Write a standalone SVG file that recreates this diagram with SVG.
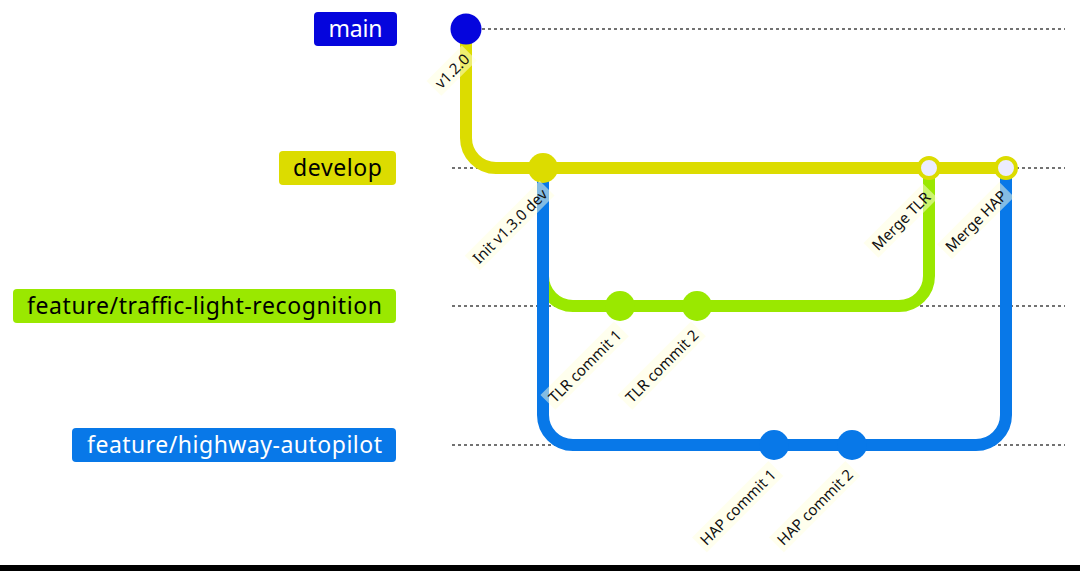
<svg xmlns="http://www.w3.org/2000/svg" width="1080" height="571" viewBox="0 0 1080 571">
<style>
.lane{stroke:#444;stroke-width:1.5;stroke-dasharray:3,3;fill:none}
.arrow{fill:none;stroke-width:12;stroke-linecap:butt}
.c0{stroke:#0505dd}.c1{stroke:#dcdc00}.c2{stroke:#9ae800}.c3{stroke:#0878e8}
.f0{fill:#0505dd}.f1{fill:#dcdc00}.f2{fill:#9ae800}.f3{fill:#0878e8}
.merge{fill:#ececff;stroke:#dcdc00;stroke-width:4}
.blabel{font-family:"Noto Sans","Open Sans",sans-serif;font-size:23px;text-anchor:middle}
.clabel{font-family:"Noto Sans","Open Sans",sans-serif;font-size:15px;text-anchor:middle;fill:#111}
.cbg{fill:#ffffde;opacity:0.5}
</style>
<rect x="0" y="0" width="1080" height="571" fill="#ffffff"/>
<g id="lanes">
<line class="lane" x1="452" y1="29" x2="1065" y2="29"/>
<line class="lane" x1="452" y1="168" x2="1065" y2="168"/>
<line class="lane" x1="452" y1="306" x2="1065" y2="306"/>
<line class="lane" x1="452" y1="445" x2="1065" y2="445"/>
</g>
<g id="branch-main"><rect x="314" y="12" width="83" height="34" rx="4" class="f0"/><text class="blabel" x="355.5" y="37" fill="#ffffff" textLength="54">main</text></g>
<g id="branch-develop"><rect x="279" y="151" width="117" height="34" rx="4" class="f1"/><text class="blabel" x="337.5" y="176" fill="#000000" textLength="89">develop</text></g>
<g id="branch-tlr"><rect x="13" y="289" width="383" height="34" rx="4" class="f2"/><text class="blabel" x="204.5" y="314" fill="#000000" textLength="355">feature/traffic-light-recognition</text></g>
<g id="branch-hap"><rect x="72" y="428" width="324" height="34" rx="4" class="f3"/><text class="blabel" x="234.5" y="453" fill="#ffffff" textLength="295">feature/highway-autopilot</text></g>
<g id="connectors">
<path class="arrow c1" d="M466,29 L466,138 A30,30 0 0,0 496,168 L543,168"/>
<path class="arrow c2" d="M543,168 L543,276 A30,30 0 0,0 573,306 L620,306"/>
<path class="arrow c2" d="M620,306 L697,306"/>
<path class="arrow c3" d="M543,168 L543,415 A30,30 0 0,0 573,445 L774,445"/>
<path class="arrow c3" d="M774,445 L852,445"/>
<path class="arrow c1" d="M543,168 L929,168"/>
<path class="arrow c2" d="M697,306 L899,306 A30,30 0 0,0 929,276 L929,168"/>
<path class="arrow c1" d="M929,168 L1006,168"/>
<path class="arrow c3" d="M852,445 L976,445 A30,30 0 0,0 1006,415 L1006,168"/>
</g>
<g id="commit-v120"><circle cx="466" cy="29" r="15.5" class="f0"/></g>
<g id="commit-init"><circle cx="543" cy="168" r="15" class="f1"/></g>
<g id="commit-tlr1"><circle cx="620" cy="306" r="15" class="f2"/></g>
<g id="commit-tlr2"><circle cx="697" cy="306" r="15" class="f2"/></g>
<g id="commit-hap1"><circle cx="774" cy="445" r="15" class="f3"/></g>
<g id="commit-hap2"><circle cx="852" cy="445" r="15" class="f3"/></g>
<g id="commit-merge-tlr"><circle cx="929" cy="168" r="10" class="merge"/></g>
<g id="commit-merge-hap"><circle cx="1006" cy="168" r="10" class="merge"/></g>
<g id="labels">
<g transform="translate(452,71) rotate(-45)"><rect class="cbg" x="-25" y="-11" width="50" height="21"/><text class="clabel" x="0" y="5.5">v1.2.0</text></g>
<g transform="translate(510,226) rotate(-45)"><rect class="cbg" x="-53" y="-11" width="106" height="21"/><text class="clabel" x="0" y="5.5">Init v1.3.0 dev</text></g>
<g transform="translate(585,366) rotate(-45)"><rect class="cbg" x="-52" y="-11" width="104" height="21"/><text class="clabel" x="0" y="5.5">TLR commit 1</text></g>
<g transform="translate(662,366) rotate(-45)"><rect class="cbg" x="-52" y="-11" width="104" height="21"/><text class="clabel" x="0" y="5.5">TLR commit 2</text></g>
<g transform="translate(738,507) rotate(-45)"><rect class="cbg" x="-54" y="-11" width="108" height="21"/><text class="clabel" x="0" y="5.5">HAP commit 1</text></g>
<g transform="translate(815,507) rotate(-45)"><rect class="cbg" x="-54" y="-11" width="108" height="21"/><text class="clabel" x="0" y="5.5">HAP commit 2</text></g>
<g transform="translate(901,221) rotate(-45)"><rect class="cbg" x="-42" y="-11" width="84" height="21"/><text class="clabel" x="0" y="5.5">Merge TLR</text></g>
<g transform="translate(976,221) rotate(-45)"><rect class="cbg" x="-44" y="-11" width="88" height="21"/><text class="clabel" x="0" y="5.5">Merge HAP</text></g>
</g>
<rect x="0" y="565" width="1080" height="6" fill="#000000"/>
</svg>
